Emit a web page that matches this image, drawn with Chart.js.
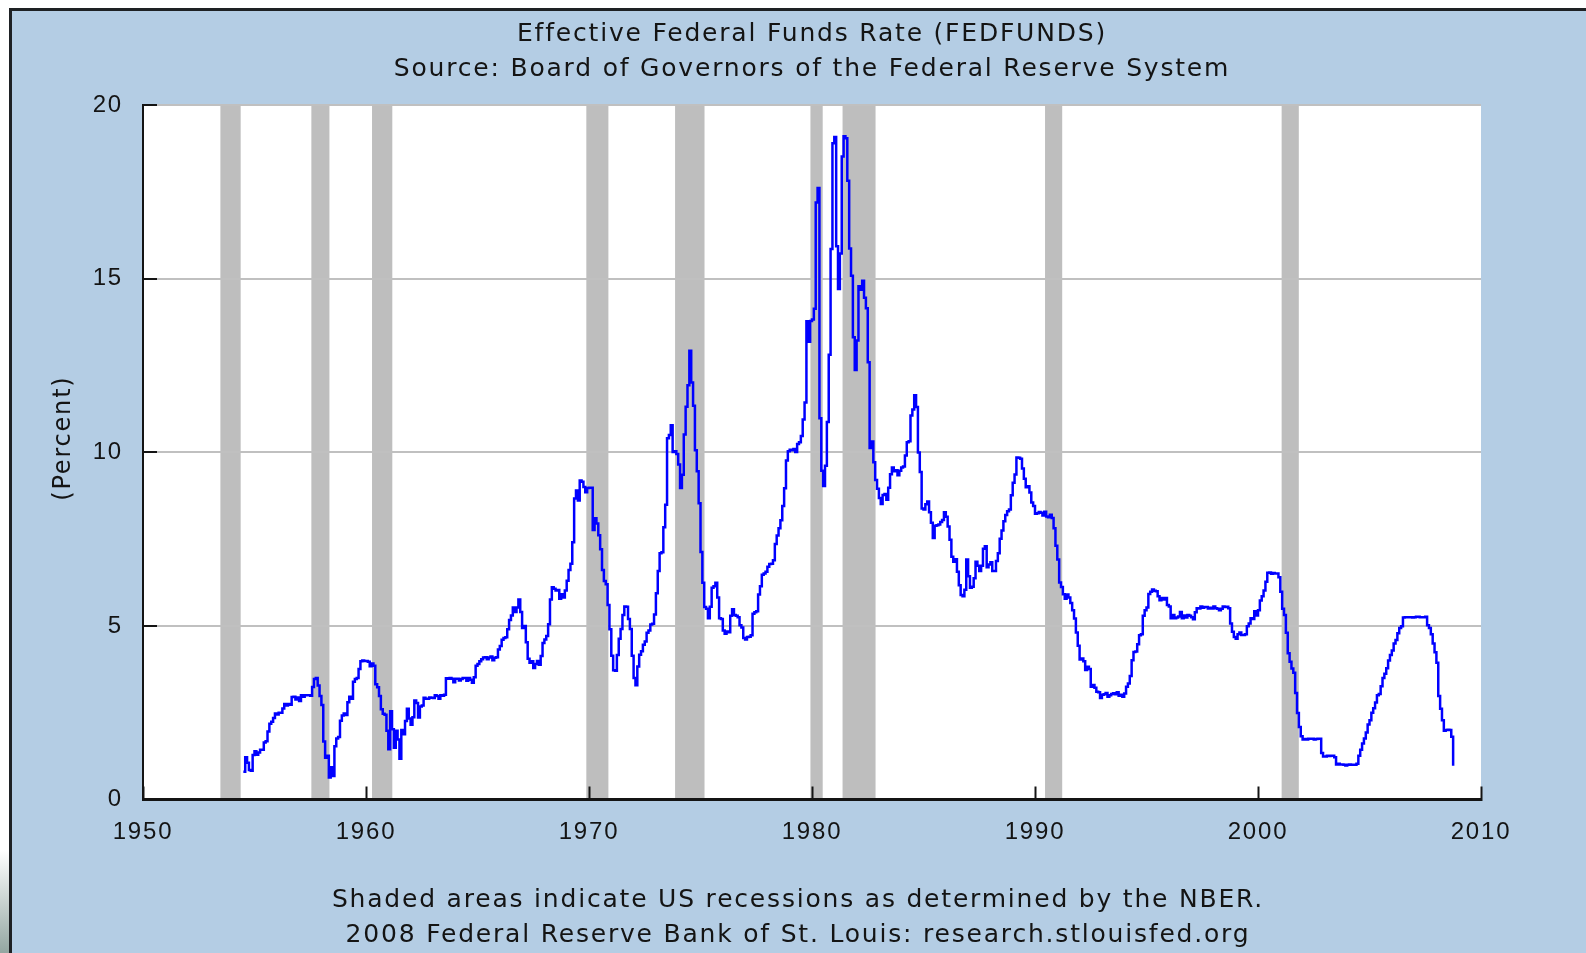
<!DOCTYPE html>
<html>
<head>
<meta charset="utf-8">
<title>Effective Federal Funds Rate (FEDFUNDS)</title>
<script src="https://cdn.jsdelivr.net/npm/chart.js@4.4.0/dist/chart.umd.min.js"></script>
<style>
  html, body { margin: 0; padding: 0; background: #fff; overflow: hidden; }
  canvas { display: block; }
</style>
</head>
<body>
<canvas id="fedChart" width="1586" height="953"></canvas>
<script>
// monthly effective fed funds rate, first value is July 1954
const startYear = 1954;
const startMonth = 7;
const rates = [
  0.80, 1.22, 1.06, 0.85, 0.83, 1.28,
  1.39, 1.29, 1.35, 1.43, 1.43, 1.64, 1.68, 1.96, 2.18, 2.24, 2.35, 2.48,
  2.45, 2.50, 2.50, 2.62, 2.75, 2.71, 2.75, 2.73, 2.95, 2.96, 2.88, 2.94,
  2.84, 3.00, 2.96, 3.00, 3.00, 3.00, 2.99, 3.24, 3.47, 3.50, 3.28, 2.98,
  2.72, 1.67, 1.20, 1.26, 0.63, 0.93, 0.68, 1.53, 1.76, 1.80, 2.27, 2.42,
  2.48, 2.43, 2.80, 2.96, 2.90, 3.39, 3.47, 3.50, 3.76, 3.98, 4.00, 3.99,
  3.99, 3.97, 3.84, 3.92, 3.85, 3.32, 3.23, 2.98, 2.60, 2.47, 2.44, 1.98,
  1.45, 2.54, 2.02, 1.49, 1.98, 1.73, 1.17, 2.00, 1.88, 2.26, 2.61, 2.33,
  2.15, 2.37, 2.85, 2.78, 2.36, 2.68, 2.71, 2.93, 2.90, 2.90, 2.94, 2.93,
  2.92, 3.00, 2.98, 2.90, 3.00, 2.99, 3.02, 3.49, 3.48, 3.50, 3.48, 3.38,
  3.48, 3.48, 3.43, 3.47, 3.50, 3.50, 3.42, 3.50, 3.45, 3.36, 3.52, 3.85,
  3.90, 3.98, 4.04, 4.09, 4.10, 4.04, 4.09, 4.12, 4.01, 4.08, 4.10, 4.32,
  4.42, 4.60, 4.65, 4.67, 4.90, 5.17, 5.30, 5.53, 5.40, 5.53, 5.76, 5.40,
  4.94, 5.00, 4.53, 4.05, 3.94, 3.98, 3.79, 3.90, 3.99, 3.88, 4.13, 4.51,
  4.61, 4.71, 5.05, 5.76, 6.11, 6.07, 6.02, 6.03, 5.78, 5.91, 5.82, 6.02,
  6.30, 6.61, 6.79, 7.41, 8.67, 8.90, 8.61, 9.19, 9.15, 9.00, 8.85, 8.97,
  8.98, 8.98, 7.76, 8.10, 7.95, 7.61, 7.21, 6.61, 6.29, 6.20, 5.60, 4.90,
  4.14, 3.72, 3.71, 4.16, 4.63, 4.91, 5.31, 5.56, 5.55, 5.20, 4.91, 4.14,
  3.50, 3.29, 3.83, 4.17, 4.27, 4.46, 4.55, 4.80, 4.87, 5.04, 5.06, 5.33,
  5.94, 6.58, 7.09, 7.12, 7.84, 8.49, 10.40, 10.50, 10.78, 10.01, 10.03, 9.95,
  9.65, 8.97, 9.35, 10.51, 11.31, 11.93, 12.92, 12.01, 11.34, 10.06, 9.45, 8.53,
  7.13, 6.24, 5.54, 5.49, 5.22, 5.55, 6.10, 6.14, 6.24, 5.82, 5.22, 5.20,
  4.87, 4.77, 4.84, 4.82, 5.29, 5.48, 5.31, 5.29, 5.25, 5.02, 4.95, 4.65,
  4.61, 4.68, 4.69, 4.73, 5.35, 5.39, 5.42, 5.90, 6.14, 6.47, 6.51, 6.56,
  6.70, 6.78, 6.79, 6.89, 7.36, 7.60, 7.81, 8.04, 8.45, 8.96, 9.76, 10.03,
  10.07, 10.06, 10.09, 10.01, 10.24, 10.29, 10.47, 10.94, 11.43, 13.77, 13.18, 13.78,
  13.82, 14.13, 17.19, 17.61, 10.98, 9.47, 9.03, 9.61, 10.87, 12.81, 15.85, 18.90,
  19.08, 15.93, 14.70, 15.72, 18.52, 19.10, 19.04, 17.82, 15.87, 15.08, 13.31, 12.37,
  13.22, 14.78, 14.68, 14.94, 14.45, 14.15, 12.59, 10.12, 10.31, 9.71, 9.20, 8.95,
  8.68, 8.51, 8.77, 8.80, 8.63, 8.98, 9.37, 9.56, 9.45, 9.48, 9.34, 9.47,
  9.56, 9.59, 9.91, 10.29, 10.32, 11.06, 11.23, 11.64, 11.30, 9.99, 9.43, 8.38,
  8.35, 8.50, 8.58, 8.27, 7.97, 7.53, 7.88, 7.90, 7.92, 7.99, 8.05, 8.27,
  8.14, 7.86, 7.48, 6.99, 6.85, 6.92, 6.56, 6.17, 5.89, 5.85, 6.04, 6.91,
  6.43, 6.10, 6.13, 6.37, 6.85, 6.73, 6.58, 6.73, 7.22, 7.29, 6.69, 6.77,
  6.83, 6.58, 6.58, 6.87, 7.09, 7.51, 7.75, 8.01, 8.19, 8.30, 8.35, 8.76,
  9.12, 9.36, 9.85, 9.84, 9.81, 9.53, 9.24, 8.99, 9.02, 8.84, 8.55, 8.45,
  8.23, 8.24, 8.28, 8.26, 8.18, 8.29, 8.15, 8.13, 8.20, 8.11, 7.81, 7.31,
  6.91, 6.25, 6.12, 5.91, 5.78, 5.90, 5.82, 5.66, 5.45, 5.21, 4.81, 4.43,
  4.03, 4.06, 3.98, 3.73, 3.82, 3.76, 3.25, 3.30, 3.22, 3.10, 3.09, 2.92,
  3.02, 3.03, 3.07, 2.96, 3.00, 3.04, 3.06, 3.03, 3.09, 2.99, 3.02, 2.96,
  3.05, 3.25, 3.34, 3.56, 4.01, 4.25, 4.26, 4.47, 4.73, 4.76, 5.29, 5.45,
  5.53, 5.92, 5.98, 6.05, 6.01, 6.00, 5.85, 5.74, 5.80, 5.76, 5.80, 5.60,
  5.56, 5.22, 5.31, 5.22, 5.24, 5.27, 5.40, 5.22, 5.30, 5.24, 5.31, 5.29,
  5.25, 5.19, 5.39, 5.51, 5.50, 5.56, 5.52, 5.54, 5.54, 5.50, 5.52, 5.50,
  5.56, 5.51, 5.49, 5.45, 5.49, 5.56, 5.54, 5.55, 5.51, 5.07, 4.83, 4.68,
  4.63, 4.76, 4.81, 4.74, 4.74, 4.76, 4.99, 5.07, 5.22, 5.20, 5.42, 5.30,
  5.45, 5.73, 5.85, 6.02, 6.27, 6.53, 6.54, 6.50, 6.52, 6.51, 6.51, 6.40,
  5.98, 5.49, 5.31, 4.80, 4.21, 3.97, 3.77, 3.65, 3.07, 2.49, 2.09, 1.82,
  1.73, 1.74, 1.73, 1.75, 1.75, 1.75, 1.73, 1.74, 1.75, 1.75, 1.34, 1.24,
  1.24, 1.26, 1.25, 1.26, 1.26, 1.22, 1.01, 1.03, 1.01, 1.01, 1.00, 0.98,
  1.00, 1.01, 1.00, 1.00, 1.00, 1.03, 1.26, 1.43, 1.61, 1.76, 1.93, 2.16,
  2.28, 2.50, 2.63, 2.79, 3.00, 3.04, 3.26, 3.50, 3.62, 3.78, 4.00, 4.16,
  4.29, 4.49, 4.59, 4.79, 4.94, 4.99, 5.24, 5.25, 5.25, 5.25, 5.25, 5.24,
  5.25, 5.26, 5.26, 5.25, 5.25, 5.25, 5.26, 5.02, 4.94, 4.76, 4.49, 4.24,
  3.94, 2.98, 2.61, 2.28, 1.98, 2.00, 2.01, 2.00, 1.81, 0.97
];

// NBER recessions (shaded bands), decimal years
const recessionStart = [1953.47, 1957.55, 1960.27, 1969.88, 1973.86, 1979.93, 1981.37, 1990.45, 2001.06];
const recessionEnd = [1954.38, 1958.36, 1961.18, 1970.87, 1975.18, 1980.48, 1982.85, 1991.22, 2001.83];

const yearTicks = [1950, 1960, 1970, 1980, 1990, 2000, 2010];
const percentTicks = [0, 5, 10, 15, 20];

const titleLines = [
  'Effective Federal Funds Rate (FEDFUNDS)',
  'Source: Board of Governors of the Federal Reserve System'
];
const footerLines = [
  'Shaded areas indicate US recessions as determined by the NBER.',
  '2008 Federal Reserve Bank of St. Louis: research.stlouisfed.org'
];
// leading spaces nudge the rotated label up a little, as in the original
const yTitle = '   (Percent)';

const points = rates.map((v, i) => ({ x: startYear + (startMonth - 1 + i) / 12, y: v }));

const textFont = "'DejaVu Sans', Verdana, sans-serif";
const tickFont = "'Liberation Sans', Arial, sans-serif";
const ink = '#141414';

// page frame, blue panel, white plot area and recession bands
const backdrop = {
  id: 'backdrop',
  beforeDraw(chart) {
    const { ctx, chartArea: a, scales: { x } } = chart;
    const w = chart.width;
    const h = chart.height;
    ctx.save();
    ctx.fillStyle = '#fff';
    ctx.fillRect(0, 0, w, h);
    const g = ctx.createLinearGradient(0, 850, 0, h);
    g.addColorStop(0, '#ffffff');
    g.addColorStop(1, '#93a6a1');
    ctx.fillStyle = g;
    ctx.fillRect(0, 850, 9, h - 850);
    ctx.fillStyle = '#1e2124';
    ctx.fillRect(9, 8, w - 9, 3);
    ctx.fillRect(9, 8, 3, h - 8);
    ctx.fillStyle = '#b4cde4';
    ctx.fillRect(12, 11, w - 12, h - 11);
    ctx.fillStyle = '#fff';
    ctx.fillRect(a.left, a.top, a.right - a.left, a.bottom - a.top);
    ctx.fillStyle = '#bebebe';
    recessionStart.forEach((s, i) => {
      const x0 = x.getPixelForValue(s);
      const x1 = x.getPixelForValue(recessionEnd[i]);
      ctx.fillRect(x0, a.top, x1 - x0, a.bottom - a.top);
    });
    ctx.restore();
    ctx.letterSpacing = '1.8px';
  }
};

new Chart(document.getElementById('fedChart'), {
  type: 'line',
  data: {
    datasets: [{
      label: 'FEDFUNDS',
      data: points,
      borderColor: '#0000ff',
      borderWidth: 2.5,
      pointRadius: 0,
      stepped: true,
      fill: false
    }]
  },
  options: {
    responsive: false,
    animation: false,
    layout: { padding: { left: 10, top: 0, right: 0, bottom: 0 } },
    plugins: {
      legend: { display: false },
      tooltip: { enabled: false },
      title: {
        display: true,
        text: titleLines,
        fullSize: false,
        color: ink,
        font: { family: textFont, size: 25, weight: 'normal', lineHeight: 1.4 },
        padding: { top: 17, bottom: 18 }
      },
      subtitle: {
        display: true,
        position: 'bottom',
        text: footerLines,
        color: ink,
        font: { family: textFont, size: 25, weight: 'normal', lineHeight: 1.4 },
        padding: { top: 23.5, bottom: 0 }
      }
    },
    scales: {
      x: {
        type: 'linear',
        min: yearTicks[0],
        max: yearTicks[yearTicks.length - 1],
        afterBuildTicks: (axis) => { axis.ticks = yearTicks.map((value) => ({ value })); },
        afterFit: (axis) => { axis.height = 60; },
        grid: { drawOnChartArea: false, drawTicks: true, tickLength: -13, tickColor: ink, tickWidth: 2 },
        border: { display: true, color: ink, width: 3 },
        ticks: {
          padding: 31,
          color: ink,
          maxRotation: 0,
          autoSkip: false,
          font: { family: tickFont, size: 24 },
          callback: (v) => String(v)
        }
      },
      y: {
        type: 'linear',
        min: percentTicks[0],
        max: percentTicks[percentTicks.length - 1],
        afterBuildTicks: (axis) => { axis.ticks = percentTicks.map((value) => ({ value })); },
        afterFit: (axis) => { axis.width = 133; },
        grid: {
          color: (c) => (c.tick && c.tick.value === 0 ? 'rgba(0,0,0,0)' : '#c0c0c0'),
          lineWidth: 2,
          tickLength: -14,
          tickColor: ink,
          tickWidth: 2
        },
        border: { display: true, color: ink, width: 2 },
        ticks: {
          padding: 34,
          color: ink,
          font: { family: tickFont, size: 24 },
          callback: (v) => String(v)
        },
        title: {
          display: true,
          text: yTitle,
          color: ink,
          font: { family: textFont, size: 24, weight: 'normal', lineHeight: 1.2 },
          padding: { top: 39, bottom: 0 }
        }
      },
      // empty axis that only reserves the blue margin on the right
      right: {
        type: 'linear',
        position: 'right',
        afterFit: (axis) => { axis.width = 105; },
        grid: { display: false },
        border: { display: false },
        ticks: { display: false }
      }
    }
  },
  plugins: [backdrop]
});
</script>
</body>
</html>
